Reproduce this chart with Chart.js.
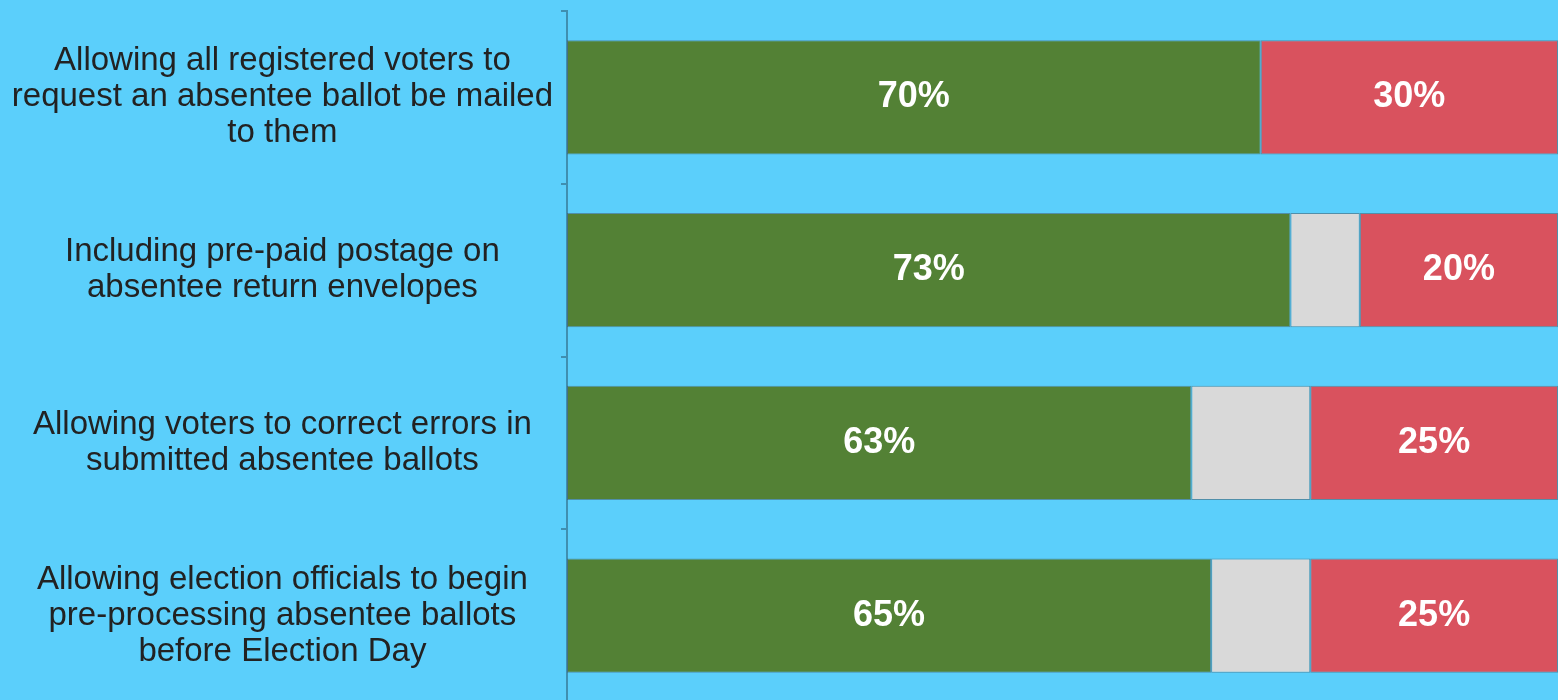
<!DOCTYPE html>
<html>
<head>
<meta charset="utf-8">
<script src="https://cdn.jsdelivr.net/npm/chart.js@4/dist/chart.umd.min.js"></script>
<style>
  html, body { margin: 0; padding: 0; background: #5bcffb; overflow: hidden; }
  #wrap { width: 1558px; height: 700px; overflow: hidden; }
</style>
</head>
<body>
<div id="wrap"><canvas id="chart" width="1558" height="702"></canvas></div>
<script>
// categories (y axis)
const categories = [
  ["Allowing all registered voters to", "request an absentee ballot be mailed", "to them"],
  ["Including pre-paid postage on", "absentee return envelopes"],
  ["Allowing voters to correct errors in", "submitted absentee ballots"],
  ["Allowing election officials to begin", "pre-processing absentee ballots", "before Election Day"],
];

// series values (%)
const support = [70, 73, 63, 65];
const unsure = [0, 7, 12, 10];
const oppose = [30, 20, 25, 25];

// white % labels inside green + red segments
const valueLabels = {
  id: "valueLabels",
  afterDatasetsDraw(chart) {
    const ctx = chart.ctx;
    ctx.save();
    ctx.fillStyle = "#ffffff";
    ctx.font = "bold 36px 'Liberation Sans', Arial, sans-serif";
    ctx.textAlign = "center";
    ctx.textBaseline = "middle";
    [0, 2].forEach((di) => {
      const meta = chart.getDatasetMeta(di);
      const values = chart.data.datasets[di].data;
      meta.data.forEach((bar, i) => {
        if (!values[i]) return;
        const cx = (bar.x + bar.base) / 2;
        ctx.fillText(values[i] + "%", cx, bar.y);
      });
    });
    ctx.restore();
  },
};

const axisColor = "#3f8fb0";
const barBorder = "rgba(70,80,90,0.5)";

new Chart(document.getElementById("chart").getContext("2d"), {
  type: "bar",
  data: {
    labels: categories,
    datasets: [
      { label: "Support", data: support, backgroundColor: "#538135", borderColor: barBorder, borderWidth: 1 },
      { label: "Unsure", data: unsure, backgroundColor: "#d9d9d9", borderColor: barBorder, borderWidth: 1 },
      { label: "Oppose", data: oppose, backgroundColor: "#d9525e", borderColor: barBorder, borderWidth: 1 },
    ],
  },
  options: {
    indexAxis: "y",
    responsive: false,
    animation: false,
    devicePixelRatio: 1,
    layout: { padding: { top: 11, left: 0, right: 0, bottom: 0 } },
    datasets: {
      bar: { categoryPercentage: 1, barPercentage: 0.66, borderSkipped: false },
    },
    scales: {
      x: { stacked: true, min: 0, max: 100, display: false },
      y: {
        stacked: true,
        afterFit: (scale) => {
          scale.width = 567;
          // labels may spill past the plot top/bottom
          scale.paddingTop = 0;
          scale.paddingBottom = 0;
        },
        border: { display: true, color: axisColor, width: 2 },
        grid: { drawOnChartArea: false, color: axisColor, tickLength: 6, lineWidth: 2 },
        ticks: {
          crossAlign: "center",
          padding: 8,
          color: "#222222",
          font: { family: "'Liberation Sans', Arial, sans-serif", size: 33, lineHeight: 1.09 },
        },
      },
    },
    plugins: {
      legend: { display: false },
      tooltip: { enabled: false },
    },
  },
  plugins: [valueLabels],
});
</script>
</body>
</html>
